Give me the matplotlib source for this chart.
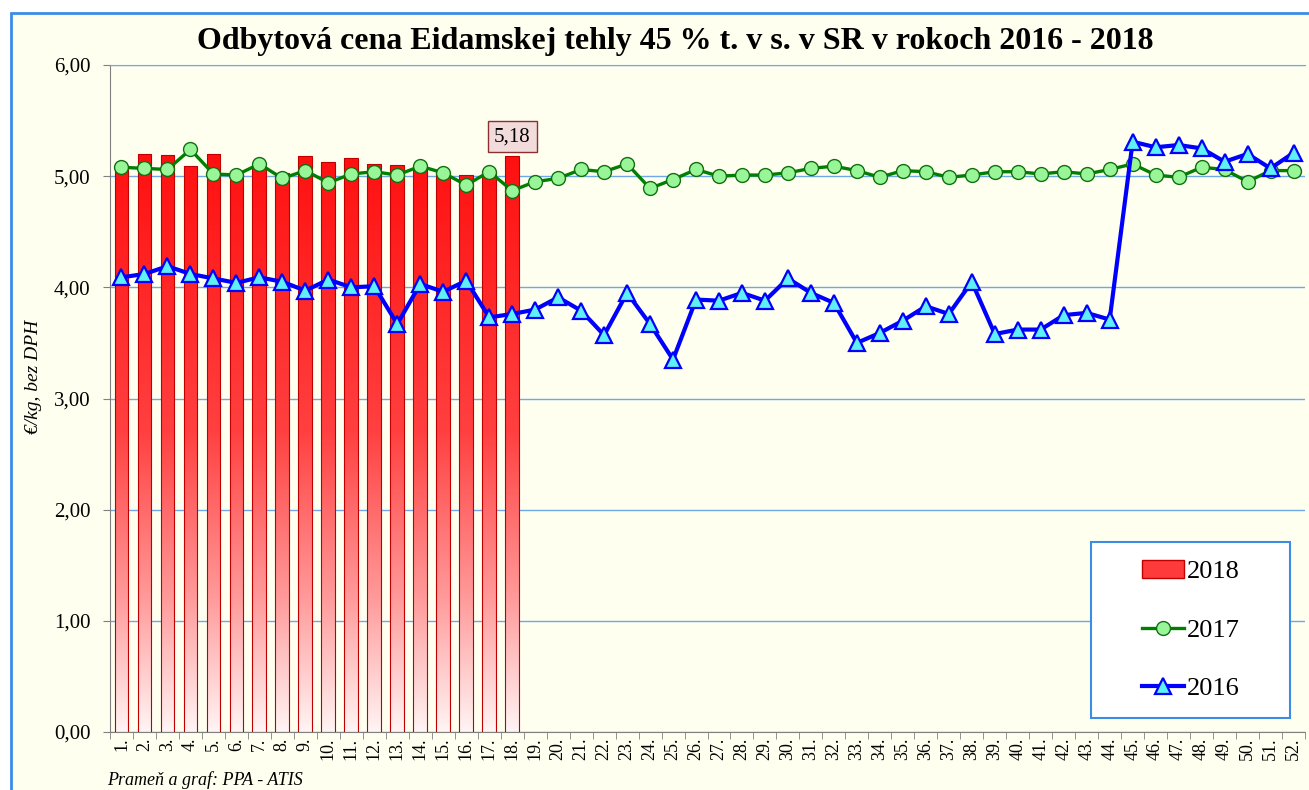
import numpy as np
import matplotlib
matplotlib.use("Agg")
import matplotlib.pyplot as plt
from matplotlib.colors import LinearSegmentedColormap
from matplotlib.patches import Rectangle
from matplotlib.lines import Line2D
from matplotlib.ticker import FuncFormatter, FixedLocator

weeks = [f"{i}." for i in range(1, 53)]

price_2018 = [5.07, 5.20, 5.19, 5.09, 5.20, 5.02, 5.08, 5.03, 5.18, 5.13,
              5.16, 5.11, 5.10, 5.08, 5.03, 5.01, 5.04, 5.18]

price_2017 = [5.08, 5.07, 5.06, 5.24, 5.02, 5.01, 5.11, 4.98, 5.05, 4.94,
              5.02, 5.04, 5.01, 5.09, 5.03, 4.92, 5.04, 4.87, 4.95, 4.98,
              5.06, 5.04, 5.11, 4.89, 4.97, 5.06, 5.00, 5.01, 5.01, 5.03,
              5.07, 5.09, 5.05, 4.99, 5.05, 5.04, 4.99, 5.01, 5.04, 5.04,
              5.02, 5.04, 5.02, 5.06, 5.11, 5.01, 4.99, 5.08, 5.06, 4.95,
              5.05, 5.05]

price_2016 = [4.09, 4.12, 4.19, 4.12, 4.08, 4.04, 4.09, 4.05, 3.97, 4.07,
              4.00, 4.01, 3.67, 4.03, 3.96, 4.06, 3.73, 3.76, 3.80, 3.91,
              3.79, 3.57, 3.95, 3.67, 3.35, 3.89, 3.88, 3.95, 3.88, 4.08,
              3.95, 3.86, 3.50, 3.59, 3.70, 3.83, 3.76, 4.05, 3.58, 3.62,
              3.62, 3.75, 3.77, 3.71, 5.31, 5.26, 5.28, 5.25, 5.13, 5.20,
              5.07, 5.21]

BG = "#FFFFF0"
GRID = "#6FA8E8"
BORDER = "#3C8CE6"
W, H = 1309, 790

plt.rcParams["font.family"] = "Liberation Serif"

fig = plt.figure(figsize=(W / 100, H / 100), dpi=100)
fig.patch.set_facecolor("white")

# outer frame of the chart
frame = Rectangle((11 / W, -0.05), 1.2, 1 - 13 / H + 0.05, transform=fig.transFigure,
                  facecolor=BG, edgecolor=BORDER, linewidth=2.0, zorder=-10)
fig.patches.append(frame)

ax = fig.add_axes([110 / W, 1 - 732 / H, 1195 / W, (732 - 65) / H])
ax.set_facecolor(BG)

x = np.arange(len(weeks))

# gradient bars for 2018
cmap = LinearSegmentedColormap.from_list(
    "bar", [(0, "#FFF4F4"), (0.2, "#FF9A9A"), (0.45, "#FF4040"), (1, "#FF0000")])
grad = np.linspace(0, 1, 256).reshape(-1, 1)
bw = 0.6
bars = ax.bar(x[:len(price_2018)], price_2018, width=bw, facecolor="none",
              edgecolor="#C00000", linewidth=0.8, zorder=3)
for b in bars:
    im = ax.imshow(grad, cmap=cmap, origin="lower", aspect="auto", zorder=2,
                   extent=[b.get_x(), b.get_x() + bw, 0, 6], vmin=0, vmax=1)
    im.set_clip_path(b)

ax.plot(x, price_2017, color="#008000", lw=2.4, marker="o", ms=10,
        mfc="#98F598", mec="#107010", mew=1.0, zorder=4)
ax.plot(x, price_2016, color="#0000FF", lw=3.0, marker="^", ms=11.5,
        mfc="#5FF0F5", mec="#0000FF", mew=1.6, zorder=5)

# data label on last bar
last = len(price_2018) - 1
ax.annotate(f"{price_2018[last]:.2f}".replace(".", ","), (x[last], price_2018[last]),
            xytext=(0, 14), textcoords="offset points", ha="center", va="center",
            fontsize=15, zorder=6,
            bbox=dict(boxstyle="square,pad=0.3", fc="#F2DCDB", ec="#8B3030", lw=1))

ax.set_xlim(-0.5, len(weeks) - 0.5)
ax.set_ylim(0, 6)
ax.set_yticks(np.arange(0, 6.01, 1))
ax.yaxis.set_major_formatter(FuncFormatter(lambda v, p: f"{v:.2f}".replace(".", ",")))
ax.grid(axis="y", color=GRID, lw=1.0, zorder=1)
ax.set_axisbelow(True)

ax.set_xticks(x)
ax.set_xticklabels(weeks, rotation=90, fontsize=13)
ax.xaxis.set_minor_locator(FixedLocator(np.arange(-0.5, len(weeks), 1)))
ax.tick_params(axis="x", which="major", length=0, pad=4)
ax.tick_params(axis="x", which="minor", length=5, color="#808080")
ax.tick_params(axis="y", length=5, color="#808080", labelsize=15, pad=9)

ax.spines["right"].set_visible(False)
ax.spines["top"].set_color(GRID)
ax.spines["left"].set_color("#808080")
ax.spines["bottom"].set_color("#808080")

ax.set_ylabel("€/kg, bez DPH", fontsize=14, style="italic")
ax.yaxis.set_label_coords(-0.057, (732 - 377) / (732 - 65))
fig.text(675 / W, 1 - 42 / H, "Odbytová cena Eidamskej tehly 45 % t. v s. v SR v rokoch 2016 - 2018",
         ha="center", va="center", fontsize=23, fontweight="bold")
fig.text(107 / W, 1 - 780 / H, "Prameň a graf: PPA - ATIS", fontsize=13,
         style="italic", ha="left", va="center")

# legend box drawn separately so it can be wider than its content
lx0, lx1, ly0, ly1 = 1091, 1290, 542, 718
legbox = Rectangle((lx0 / W, 1 - ly1 / H), (lx1 - lx0) / W, (ly1 - ly0) / H,
                   transform=fig.transFigure, facecolor="white", edgecolor=BORDER,
                   linewidth=1.5, zorder=9)
fig.patches.append(legbox)

handles = [
    Rectangle((0, 0), 1, 1, facecolor="#FF3A3A", edgecolor="#C00000"),
    Line2D([], [], color="#008000", lw=2.4, marker="o", ms=10, mfc="#98F598", mec="#107010"),
    Line2D([], [], color="#0000FF", lw=3.0, marker="^", ms=11, mfc="#5FF0F5", mec="#0000FF", mew=1.6),
]
leg = fig.legend(handles, ["2018", "2017", "2016"], loc="center",
                 bbox_to_anchor=((lx0 + lx1) / 2 / W, 1 - (ly0 + ly1) / 2 / H),
                 fontsize=19, frameon=False, labelspacing=1.32, handlelength=1.6,
                 handletextpad=0.1, borderpad=0)
leg.set_zorder(10)

fig.savefig("out.png", dpi=100, facecolor=fig.get_facecolor())
